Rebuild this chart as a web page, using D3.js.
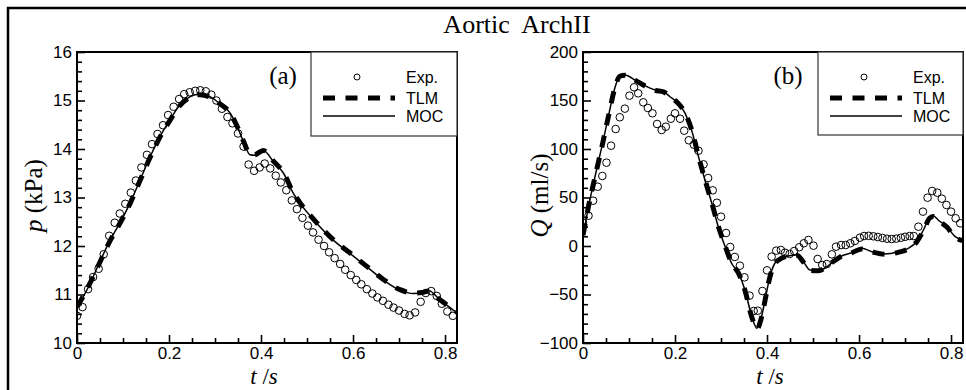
<!DOCTYPE html>
<html>
<head>
<meta charset="utf-8">
<script src="https://cdn.jsdelivr.net/npm/d3@7"></script>
<style>
  html, body { margin: 0; padding: 0; background: #fff; }
  svg { display: block; }
</style>
</head>
<body>
<div id="chart"></div>
<script>
// ---------------- DATA ----------------
const chartTitle = "Aortic  ArchII";
const legendLabels = ["Exp.", "TLM", "MOC"];
const timeTicks = [0, 0.2, 0.4, 0.6, 0.8];
const timeTickLabels = ["0", "0.2", "0.4", "0.6", "0.8"];
const pTicks = [10, 11, 12, 13, 14, 15, 16];
const qTicks = [-100, -50, 0, 50, 100, 150, 200];

// Panel (a): pressure p (kPa)
const expA_t = [0, 0.012, 0.024, 0.035, 0.047, 0.058, 0.070, 0.082, 0.093, 0.105, 0.117, 0.128, 0.140, 0.152, 0.163, 0.175, 0.187, 0.198, 0.210, 0.222, 0.233, 0.245, 0.257, 0.268, 0.280, 0.292, 0.303, 0.315, 0.327, 0.338, 0.350, 0.362, 0.373, 0.385, 0.397, 0.408, 0.420, 0.432, 0.443, 0.455, 0.467, 0.478, 0.490, 0.502, 0.513, 0.525, 0.537, 0.548, 0.560, 0.572, 0.583, 0.595, 0.607, 0.618, 0.630, 0.642, 0.653, 0.665, 0.677, 0.688, 0.700, 0.712, 0.723, 0.735, 0.747, 0.758, 0.770, 0.782, 0.793, 0.805, 0.817];
const expA_p = [10.56, 10.74, 11.11, 11.36, 11.53, 11.83, 12.21, 12.48, 12.67, 12.87, 13.10, 13.35, 13.62, 13.88, 14.10, 14.31, 14.49, 14.70, 14.87, 15.03, 15.13, 15.17, 15.20, 15.21, 15.19, 15.12, 15.00, 14.83, 14.66, 14.53, 14.32, 14.05, 13.68, 13.55, 13.62, 13.70, 13.60, 13.45, 13.31, 13.15, 12.94, 12.76, 12.58, 12.42, 12.28, 12.13, 12.00, 11.87, 11.75, 11.63, 11.51, 11.40, 11.30, 11.21, 11.11, 11.02, 10.94, 10.87, 10.79, 10.73, 10.67, 10.60, 10.57, 10.63, 10.85, 11.03, 11.07, 10.97, 10.81, 10.65, 10.56];

const mocA_t = [0, 0.025, 0.048, 0.072, 0.093, 0.115, 0.137, 0.159, 0.180, 0.202, 0.224, 0.246, 0.267, 0.289, 0.311, 0.333, 0.347, 0.362, 0.376, 0.385, 0.405, 0.427, 0.449, 0.470, 0.485, 0.521, 0.557, 0.593, 0.630, 0.666, 0.702, 0.731, 0.750, 0.764, 0.789, 0.818, 0.826];
const mocA_p = [10.72, 11.16, 11.64, 12.12, 12.47, 12.88, 13.36, 13.84, 14.25, 14.60, 14.91, 15.08, 15.13, 15.08, 14.93, 14.74, 14.49, 14.15, 13.88, 13.87, 13.97, 13.74, 13.50, 13.09, 12.88, 12.47, 12.12, 11.85, 11.57, 11.30, 11.09, 11.02, 11.04, 11.08, 10.89, 10.68, 10.63];

const tlmA_t = [0, 0.025, 0.048, 0.072, 0.093, 0.115, 0.137, 0.159, 0.180, 0.202, 0.224, 0.246, 0.267, 0.289, 0.311, 0.333, 0.347, 0.362, 0.376, 0.385, 0.405, 0.427, 0.449, 0.470, 0.485, 0.521, 0.557, 0.593, 0.630, 0.666, 0.702, 0.731, 0.750, 0.764, 0.789, 0.818, 0.826];
const tlmA_p = [10.74, 11.17, 11.63, 12.11, 12.46, 12.87, 13.35, 13.83, 14.24, 14.59, 14.90, 15.07, 15.12, 15.07, 14.93, 14.74, 14.49, 14.16, 13.89, 13.88, 13.97, 13.75, 13.51, 13.10, 12.89, 12.48, 12.13, 11.86, 11.58, 11.31, 11.10, 11.03, 11.04, 11.07, 10.89, 10.69, 10.64];

// Panel (b): flow rate Q (ml/s)
const expB_t = [0, 0.012, 0.022, 0.032, 0.042, 0.051, 0.061, 0.071, 0.080, 0.091, 0.101, 0.111, 0.120, 0.131, 0.141, 0.151, 0.161, 0.171, 0.180, 0.191, 0.200, 0.211, 0.220, 0.230, 0.241, 0.251, 0.262, 0.272, 0.282, 0.291, 0.300, 0.311, 0.320, 0.330, 0.341, 0.351, 0.362, 0.371, 0.380, 0.390, 0.400, 0.410, 0.420, 0.430, 0.439, 0.449, 0.459, 0.470, 0.480, 0.490, 0.501, 0.510, 0.520, 0.530, 0.541, 0.550, 0.561, 0.571, 0.581, 0.591, 0.602, 0.611, 0.621, 0.631, 0.641, 0.651, 0.661, 0.671, 0.681, 0.691, 0.700, 0.710, 0.719, 0.729, 0.739, 0.749, 0.759, 0.770, 0.780, 0.790, 0.800, 0.810, 0.820];
const expB_q = [24.0, 31.2, 46.7, 61.1, 72.2, 85.9, 103.4, 120.6, 132.7, 141.6, 155.0, 163.6, 157.4, 148.1, 142.3, 136.8, 125.8, 119.6, 123.0, 131.2, 136.8, 131.2, 118.9, 109.0, 104.4, 98.2, 84.2, 70.1, 57.4, 44.6, 30.2, 13.4, -1.0, -11.3, -20.3, -32.3, -51.2, -67.0, -66.7, -46.4, -25.1, -11.0, -4.8, -4.1, -6.9, -8.2, -5.2, -1.3, 2.8, 6.2, 0.3, -13.4, -19.6, -18.6, -8.6, -0.7, 1.0, 1.0, 2.8, 5.2, 8.6, 10.3, 10.5, 10.0, 9.2, 8.3, 7.5, 7.2, 7.6, 8.5, 9.5, 10.3, 10.3, 19.9, 35.4, 49.8, 56.7, 55.0, 48.8, 42.3, 35.4, 28.6, 23.4];

const mocB_t = [0, 0.012, 0.026, 0.041, 0.055, 0.070, 0.080, 0.091, 0.113, 0.135, 0.157, 0.175, 0.189, 0.207, 0.222, 0.236, 0.251, 0.265, 0.280, 0.294, 0.309, 0.323, 0.338, 0.352, 0.367, 0.378, 0.388, 0.396, 0.403, 0.417, 0.432, 0.446, 0.465, 0.479, 0.493, 0.512, 0.526, 0.544, 0.562, 0.584, 0.606, 0.628, 0.657, 0.685, 0.707, 0.725, 0.740, 0.754, 0.762, 0.772, 0.791, 0.809, 0.826];
const mocB_q = [9.6, 40.5, 71.4, 102.4, 133.3, 164.2, 175.3, 176.3, 171.1, 165.0, 160.8, 159.1, 153.9, 147.1, 136.8, 119.6, 92.1, 68.0, 44.0, 19.9, -0.7, -17.8, -28.1, -45.4, -72.9, -84.8, -72.9, -55.0, -38.5, -17.8, -12.7, -10.3, -9.3, -16.2, -24.7, -25.5, -23.0, -16.2, -10.3, -6.9, -2.4, -5.9, -8.2, -5.9, -2.4, 4.4, 16.5, 29.6, 30.9, 26.8, 19.9, 9.6, 6.0];

const tlmB_t = [0, 0.012, 0.026, 0.041, 0.055, 0.070, 0.080, 0.091, 0.113, 0.135, 0.157, 0.175, 0.189, 0.207, 0.222, 0.236, 0.251, 0.265, 0.280, 0.294, 0.309, 0.323, 0.338, 0.352, 0.367, 0.378, 0.388, 0.396, 0.403, 0.417, 0.432, 0.446, 0.465, 0.479, 0.493, 0.512, 0.526, 0.544, 0.562, 0.584, 0.606, 0.628, 0.657, 0.685, 0.707, 0.725, 0.740, 0.754, 0.762, 0.772, 0.791, 0.809, 0.826];
const tlmB_q = [11.0, 41.0, 71.0, 102.0, 133.0, 164.0, 175.0, 176.0, 171.0, 165.0, 160.5, 159.0, 154.0, 147.0, 137.0, 120.0, 92.5, 68.5, 44.5, 20.5, 0.0, -17.5, -28.0, -45.5, -73.5, -85.5, -73.5, -55.5, -38.5, -18.0, -12.5, -10.0, -9.5, -16.5, -25.0, -25.5, -22.5, -16.0, -10.5, -7.0, -3.0, -6.0, -8.5, -6.5, -3.0, 4.0, 16.0, 29.0, 30.5, 26.5, 19.5, 9.0, 5.5];

// ---------------- DRAW ----------------
const W = 966, H = 390;
const svg = d3.select("#chart").append("svg")
  .attr("width", W).attr("height", H)
  .attr("viewBox", `0 0 ${W} ${H}`);

// Outer frame (cropped on right/bottom)
svg.append("path")
  .attr("d", `M8,${H + 5} L8,8 L${W + 5},8`)
  .attr("fill", "none").attr("stroke", "#000").attr("stroke-width", 2.5);

svg.append("text")
  .attr("x", 517).attr("y", 33)
  .attr("text-anchor", "middle")
  .style("font-family", "'Liberation Serif', 'Times New Roman', serif")
  .style("font-size", "26px")
  .style("white-space", "pre")
  .attr("xml:space", "preserve")
  .text(chartTitle);

function drawPanel(cfg) {
  const { left, top, right, bottom } = cfg;
  const x = d3.scaleLinear().domain([0, 0.826]).range([left, right]);
  const y = d3.scaleLinear().domain(cfg.yDomain).range([bottom, top]);
  const g = svg.append("g");

  const clipId = "clip-" + cfg.id;
  svg.append("clipPath").attr("id", clipId)
    .append("rect").attr("x", left).attr("y", top)
    .attr("width", right - left).attr("height", bottom - top);

  // minor ticks
  const minorX = d3.range(0, 0.826, 0.05).filter(v => timeTicks.every(t => Math.abs(t - v) > 1e-6));
  const minorY = d3.range(cfg.yDomain[0], cfg.yDomain[1] + 1e-9, cfg.yMinor)
    .filter(v => cfg.yTicks.every(t => Math.abs(t - v) > 1e-6));

  const axStyle = sel => {
    sel.select(".domain").remove();
    sel.selectAll("line").attr("stroke", "#000").attr("stroke-width", 1.6);
    sel.selectAll("text")
      .style("font-family", "'Liberation Sans', Arial, sans-serif")
      .style("font-size", "17px").attr("fill", "#000");
  };

  g.append("g").attr("transform", `translate(0,${bottom})`)
    .call(d3.axisBottom(x).tickValues(timeTicks)
      .tickFormat((d, i) => timeTickLabels[i]).tickSize(-8).tickPadding(4))
    .call(axStyle);
  g.append("g").attr("transform", `translate(0,${bottom})`)
    .call(d3.axisBottom(x).tickValues(minorX).tickFormat("").tickSize(-5))
    .call(axStyle);
  g.append("g").attr("transform", `translate(${left},0)`)
    .call(d3.axisLeft(y).tickValues(cfg.yTicks).tickFormat(d3.format("d")).tickSize(-8).tickPadding(5))
    .call(axStyle);
  g.append("g").attr("transform", `translate(${left},0)`)
    .call(d3.axisLeft(y).tickValues(minorY).tickFormat("").tickSize(-5))
    .call(axStyle);

  // curves
  const lineGen = (ts, vs) => d3.line()
    .x((d, i) => x(ts[i])).y((d, i) => y(vs[i]))
    .curve(d3.curveMonotoneX)(vs);

  const plot = g.append("g").attr("clip-path", `url(#${clipId})`);
  plot.append("path").attr("d", lineGen(cfg.tlmT, cfg.tlmV))
    .attr("fill", "none").attr("stroke", "#000")
    .attr("stroke-width", 5).attr("stroke-dasharray", "12,10.5");
  plot.append("path").attr("d", lineGen(cfg.mocT, cfg.mocV))
    .attr("fill", "none").attr("stroke", "#000").attr("stroke-width", 1.5);
  plot.selectAll("circle.exp").data(cfg.expV).enter().append("circle")
    .attr("class", "exp")
    .attr("cx", (d, i) => x(cfg.expT[i])).attr("cy", d => y(d))
    .attr("r", 3.8).attr("fill", "none").attr("stroke", "#000").attr("stroke-width", 1);

  // frame
  g.append("rect").attr("x", left).attr("y", top)
    .attr("width", right - left).attr("height", bottom - top)
    .attr("fill", "none").attr("stroke", "#000").attr("stroke-width", 2);

  // legend
  const lx = cfg.legendLeft, ly = top;
  g.append("rect").attr("x", lx).attr("y", ly)
    .attr("width", right - lx).attr("height", cfg.legendBottom - ly)
    .attr("fill", "#fff").attr("stroke", "#333").attr("stroke-width", 1.2);
  const rows = [25, 46, 64];
  g.append("circle").attr("cx", lx + 46).attr("cy", ly + rows[0])
    .attr("r", 3).attr("fill", "none").attr("stroke", "#000").attr("stroke-width", 1);
  g.append("line").attr("x1", lx + 12).attr("x2", lx + 84)
    .attr("y1", ly + rows[1]).attr("y2", ly + rows[1])
    .attr("stroke", "#000").attr("stroke-width", 5).attr("stroke-dasharray", "12,10.5");
  g.append("line").attr("x1", lx + 12).attr("x2", lx + 84)
    .attr("y1", ly + rows[2]).attr("y2", ly + rows[2])
    .attr("stroke", "#000").attr("stroke-width", 1.5);
  legendLabels.forEach((lab, i) => {
    g.append("text").attr("x", lx + 95).attr("y", ly + rows[i] + 6)
      .style("font-family", "'Liberation Sans', Arial, sans-serif")
      .style("font-size", "16px").text(lab);
  });

  // panel letter
  g.append("text").attr("x", cfg.letterX).attr("y", top + 32)
    .attr("text-anchor", "middle")
    .style("font-family", "'Liberation Serif', 'Times New Roman', serif")
    .style("font-size", "25px").text(cfg.letter);

  // y label
  const yl = g.append("text")
    .attr("transform", `translate(${cfg.yLabelX},${(top + bottom) / 2 - 2}) rotate(-90)`)
    .attr("text-anchor", "middle")
    .style("font-family", "'Liberation Serif', 'Times New Roman', serif")
    .style("font-size", "25px");
  yl.append("tspan").style("font-style", "italic").text(cfg.yVar);
  yl.append("tspan").text(" " + cfg.yUnit);

  // x label
  const xl = g.append("text")
    .attr("x", (left + right) / 2 - 3).attr("y", bottom + 41)
    .attr("text-anchor", "middle")
    .style("font-family", "'Liberation Serif', 'Times New Roman', serif")
    .style("font-size", "23px");
  xl.append("tspan").style("font-style", "italic").text("t");
  xl.append("tspan").text(" /");
  xl.append("tspan").style("font-style", "italic").text("s");
}

drawPanel({
  id: "a", left: 77, top: 52, right: 457, bottom: 343,
  yDomain: [10, 16], yTicks: pTicks, yMinor: 0.2,
  expT: expA_t, expV: expA_p, mocT: mocA_t, mocV: mocA_p, tlmT: tlmA_t, tlmV: tlmA_p,
  legendLeft: 311, legendBottom: 136,
  letter: "(a)", letterX: 283,
  yVar: "p", yUnit: "(kPa)", yLabelX: 42
});

drawPanel({
  id: "b", left: 583, top: 52, right: 963, bottom: 343,
  yDomain: [-100, 200], yTicks: qTicks, yMinor: 10,
  expT: expB_t, expV: expB_q, mocT: mocB_t, mocV: mocB_q, tlmT: tlmB_t, tlmV: tlmB_q,
  legendLeft: 818, legendBottom: 135,
  letter: "(b)", letterX: 788,
  yVar: "Q", yUnit: "(ml/s)", yLabelX: 548
});
</script>
</body>
</html>
